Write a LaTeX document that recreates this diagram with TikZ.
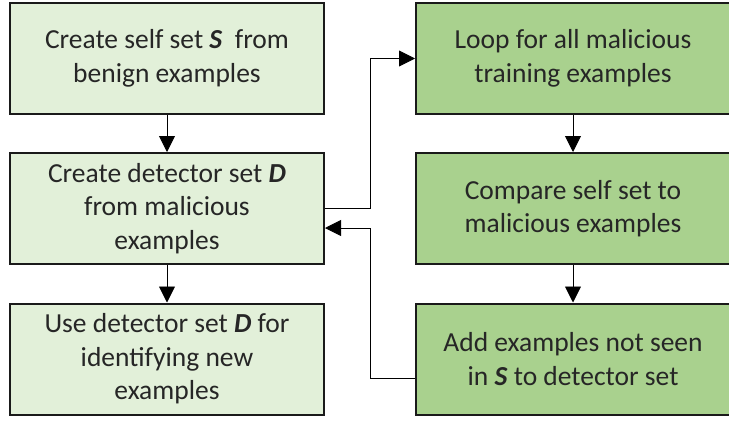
\documentclass[tikz,border=0pt]{standalone}
\usepackage{fontspec}
\setmainfont{Carlito}
\usetikzlibrary{arrows.meta}
\definecolor{lightg}{HTML}{E2F0D9}
\definecolor{darkg}{HTML}{A9D18E}
\definecolor{txt}{HTML}{262626}
\definecolor{bord}{HTML}{1A1A1A}
\newcommand{\bi}[1]{\textbf{\textit{#1}}}
\begin{document}
\begin{tikzpicture}[x=1pt,y=-1pt,
  box/.style={draw=bord,line width=2pt,minimum width=314pt,minimum height=111pt,
    align=center,text=txt,font=\fontsize{27.5}{33.5}\selectfont,inner sep=0pt},
  lbox/.style={box,fill=lightg},
  rbox/.style={box,fill=darkg},
  conn/.style={line width=0.9pt,-{Triangle[length=16pt,width=16pt]}}]
\useasboundingbox (0,0) rectangle (729,421);
\node[lbox] (l1) at (167,58.5) {Create self set \bi{S}\ \ from\\benign examples};
\node[lbox] (l2) at (167,208.5) {Create detector set \bi{D}\\from malicious\\examples};
\node[lbox] (l3) at (167,359) {Use detector set \bi{D} for\\identifying new\\examples};
\node[rbox] (r1) at (573,58.5) {Loop for all malicious\\training examples};
\node[rbox] (r2) at (573,208.5) {Compare self set to\\malicious examples};
\node[rbox] (r3) at (573,359) {Add examples not seen\\in \bi{S} to detector set};
\draw[conn] (l1) -- (l2);
\draw[conn] (l2) -- (l3);
\draw[conn] (r1) -- (r2);
\draw[conn] (r2) -- (r3);
\coordinate (ja) at (370,208.5);
\coordinate (jb) at (370,58.5);
\draw[conn] (l2.east) -- (ja) -- (jb) -- (r1.west);
\coordinate (rs) at (415,378);
\coordinate (ka) at (370,378);
\coordinate (kb) at (370,228);
\coordinate (le) at (325,228);
\draw[conn] (rs) -- (ka) -- (kb) -- (le);
\end{tikzpicture}
\end{document}
